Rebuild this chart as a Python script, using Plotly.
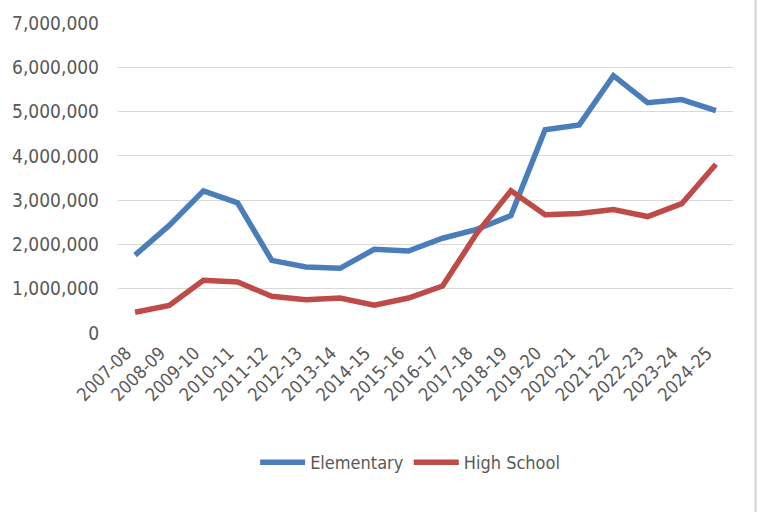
import plotly.graph_objects as go

years = ["2007-08", "2008-09", "2009-10", "2010-11", "2011-12", "2012-13",
         "2013-14", "2014-15", "2015-16", "2016-17", "2017-18", "2018-19",
         "2019-20", "2020-21", "2021-22", "2022-23", "2023-24", "2024-25"]

elementary = [1760000, 2430000, 3210000, 2940000, 1640000, 1490000,
              1460000, 1890000, 1850000, 2140000, 2340000, 2650000,
              4590000, 4700000, 5810000, 5200000, 5270000, 5020000]

high_school = [470000, 620000, 1190000, 1150000, 830000, 750000,
               790000, 630000, 790000, 1060000, 2250000, 3210000,
               2670000, 2700000, 2790000, 2630000, 2920000, 3810000]

y_ticks = [0, 1000000, 2000000, 3000000, 4000000, 5000000, 6000000, 7000000]
y_tick_text = ["0", "1,000,000", "2,000,000", "3,000,000", "4,000,000",
               "5,000,000", "6,000,000", "7,000,000"]

FONT = "Liberation Sans Narrow, Arial Narrow, DejaVu Sans Condensed, sans-serif"
GREY = "#595959"

fig = go.Figure()
fig.add_trace(go.Scatter(x=years, y=elementary, mode="lines", name="Elementary",
                         line=dict(color="#4A7EBB", width=5.5)))
fig.add_trace(go.Scatter(x=years, y=high_school, mode="lines", name="High School",
                         line=dict(color="#BE4B48", width=5.5)))

fig.update_layout(
    width=760, height=512,
    margin=dict(l=107, r=27, t=22, b=179),
    paper_bgcolor="white", plot_bgcolor="white",
    font=dict(family=FONT, size=19, color=GREY),
    showlegend=True,
    legend=dict(orientation="h", x=0.475, y=-0.418, xanchor="center", yanchor="middle",
                font=dict(family=FONT, size=18, color=GREY),
                itemwidth=45, tracegroupgap=0, bgcolor="rgba(0,0,0,0)"),
    xaxis=dict(type="category", tickangle=-45, showgrid=False, zeroline=False,
               showline=False, ticks="", tickfont=dict(family=FONT, size=18, color=GREY),
               ticklabelshift=-9, ticklabelstandoff=5,
               range=[-0.5, len(years) - 0.5]),
    yaxis=dict(range=[0, 7000000], tickvals=y_ticks, ticktext=y_tick_text,
               showgrid=True, gridcolor="#D9D9D9", gridwidth=1.3, zeroline=False,
               showline=False, ticks="", ticklabelstandoff=18,
               tickfont=dict(family=FONT, size=19, color=GREY)),
    shapes=[dict(type="line", xref="paper", yref="paper",
                 x0=1.0367, x1=1.0367, y0=-0.6, y1=1.1,
                 line=dict(color="#D0D0D0", width=2))],
)

fig.write_html("out.html")
